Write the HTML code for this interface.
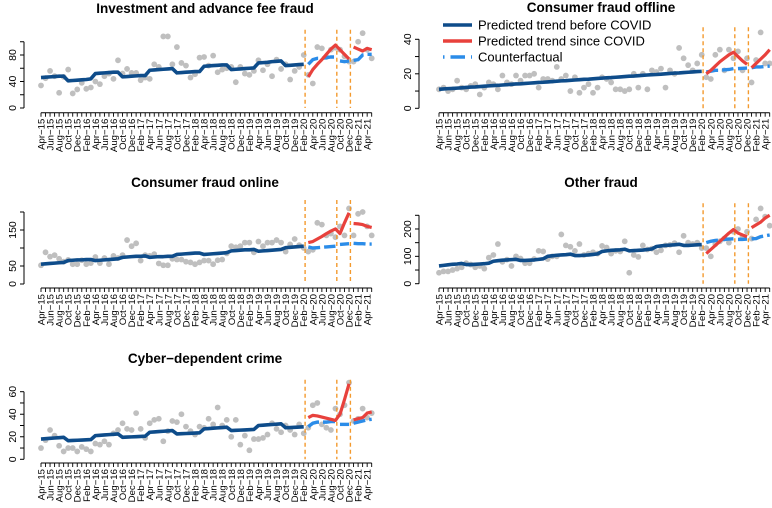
<!DOCTYPE html>
<html><head><meta charset="utf-8">
<style>
html,body{margin:0;padding:0;background:#fff;}
svg{display:block;font-family:"Liberation Sans",sans-serif;}
</style></head>
<body>
<svg id="chart" width="772" height="508" viewBox="0 0 772 508" xmlns="http://www.w3.org/2000/svg"></svg>
<script>
const months = ["Apr-15","May-15","Jun-15","Jul-15","Aug-15","Sep-15","Oct-15","Nov-15","Dec-15",
"Jan-16","Feb-16","Mar-16","Apr-16","May-16","Jun-16","Jul-16","Aug-16","Sep-16","Oct-16","Nov-16","Dec-16",
"Jan-17","Feb-17","Mar-17","Apr-17","May-17","Jun-17","Jul-17","Aug-17","Sep-17","Oct-17","Nov-17","Dec-17",
"Jan-18","Feb-18","Mar-18","Apr-18","May-18","Jun-18","Jul-18","Aug-18","Sep-18","Oct-18","Nov-18","Dec-18",
"Jan-19","Feb-19","Mar-19","Apr-19","May-19","Jun-19","Jul-19","Aug-19","Sep-19","Oct-19","Nov-19","Dec-19",
"Jan-20","Feb-20","Mar-20","Apr-20","May-20","Jun-20","Jul-20","Aug-20","Sep-20","Oct-20","Nov-20","Dec-20",
"Jan-21","Feb-21","Mar-21","Apr-21","May-21"];
const covidStart = 59;
const lockdowns = [58.3, 65.3, 68.3];
const redBreaks = [68];
const cfBreaks = [65, 68];

const p1Obs = [34,45,56,48,23,47,58,22,28,38,29,31,40,36,48,52,44,72,52,59,53,53,42,46,44,66,62,108,108,66,92,68,64,46,51,76,77,64,79,54,58,60,62,39,62,52,50,56,72,57,66,48,73,59,66,43,56,62,80,50,37,92,90,77,88,91,88,78,70,70,100,113,88,75];
const p1Trend = [46,46.5,47,47.5,48,48,41,41.5,42,42.5,43,44,52,52.5,53,53.5,54,54,47,47.5,48,48.5,49,49,57,57.5,58,58.5,59,59.5,53,53.5,54,54.5,55,55,63,63.5,64,64.5,65,65,58,58.5,59,59.5,60,60.5,68,68.5,69,70,70.5,71,64,64.5,65,65.5,66];
const p1Red = [47,58,66,73,81,89,95,88,81,74,92,89,86,90,88];
const p1Cf = [66,73,75,75,76,77,77,71,70,71,72,73,80,81,81];

const p2Obs = [11,12,10,11,16,12,11,13,14,8,12,15,14,11,19,15,14,19,16,19,19,20,12,17,17,16,24,17,19,10,18,9,12,14,9,12,18,17,15,11,11,10,11,20,12,20,11,22,21,23,12,22,20,35,29,25,22,26,31,18,17,31,34,22,34,29,33,22,29,15,28,44,26,26];
const p2Trend = [11.0,11.2,11.4,11.5,11.7,11.9,12.1,12.3,12.4,12.6,12.8,13.0,13.2,13.3,13.5,13.7,13.9,14.1,14.2,14.4,14.6,14.8,15.0,15.1,15.3,15.5,15.7,15.9,16.0,16.2,16.4,16.6,16.8,16.9,17.1,17.3,17.5,17.7,17.8,18.0,18.2,18.4,18.6,18.7,18.9,19.1,19.3,19.5,19.6,19.8,20.0,20.2,20.4,20.5,20.7,20.9,21.1,21.3,21.4];
const p2Red = [20,22,24.5,27,29,31,32.5,30,27.5,25.5,23.5,26,28.5,31,34];
const p2Cf = [21,21.5,22,22,22.3,22.5,23,23,23.2,23.3,23.5,24,24,24.2,24.5];

const p3Obs = [52,88,76,80,70,62,67,55,55,66,55,58,75,58,72,55,78,72,80,122,105,113,65,80,78,83,57,52,52,70,68,68,62,60,55,60,65,65,55,66,68,85,105,102,105,115,115,88,118,105,115,115,122,115,90,110,125,108,100,90,95,170,165,135,140,130,160,135,210,135,195,200,160,135];
const p3Trend = [55,56,57,58,59,60,65,66,67,67,68,68,65,66,67,68,69,70,74,75,76,77,77,78,74,75,76,76,77,77,82,83,84,85,86,86,82,83,84,85,86,87,92,93,94,95,95,96,91,92,93,94,95,96,101,102,103,104,105];
const p3Red = [115,118,125,132,140,147,153,140,170,198,168,167,165,160,157];
const p3Cf = [103,100,101,102,103,104,105,110,111,112,113,112,112,111,111];

const p4Obs = [40,45,45,50,55,60,75,70,60,65,55,95,105,145,80,88,65,100,92,75,75,90,120,118,90,100,100,180,140,135,120,145,105,110,115,110,138,132,110,120,118,155,40,105,98,140,125,128,115,122,140,142,148,115,175,150,145,150,130,130,100,145,155,165,150,190,200,170,190,165,235,275,245,212];
const p4Trend = [65,67,69,71,72,74,70,70,71,72,73,75,82,84,86,87,88,89,85,85,86,87,89,91,100,102,104,105,106,108,103,103,104,105,107,109,118,120,122,123,124,126,120,121,122,123,125,127,136,138,140,141,142,144,140,140,141,142,143];
const p4Red = [110,125,140,155,170,185,198,185,178,172,205,215,225,240,250];
const p4Cf = [150,155,158,160,162,163,164,162,162,163,164,165,172,175,178];

const p5Obs = [10,17,26,21,12,7,10,10,7,11,9,7,14,13,16,13,23,26,32,27,26,41,27,19,32,35,36,16,25,34,33,40,29,25,22,29,28,36,31,46,30,35,20,35,13,21,8,18,18,19,22,32,27,24,30,26,22,31,23,28,48,50,31,28,26,45,40,48,68,34,36,45,37,41];
const p5Trend = [18,18.3,18.6,18.9,19.2,19.5,16.5,16.7,16.9,17.1,17.3,17.5,21,21.3,21.6,21.9,22.2,22.5,19.5,19.7,19.9,20.1,20.3,20.5,24,24.3,24.6,24.9,25.2,25.5,22.5,22.7,22.9,23.1,23.3,23.5,27,27.3,27.6,27.9,28.2,28.5,25.5,25.7,25.9,26.1,26.3,26.5,30,30.3,30.6,30.9,31.2,31.5,28,28.2,28.4,28.6,28.8];
const p5Red = [37,39,38.5,37.5,36.5,35.5,34.5,40,53,67,35,36,37,41,42];
const p5Cf = [29,32,33,33,33,33.5,33.5,31,31,31,32,33,34,35,35.5];

const yTicks1 = [0,20,40,60,80,100], yLabels1 = [0,40,80];
const yTicks2 = [0,10,20,30,40], yLabels2 = [0,20,40];
const yTicks3 = [0,50,100,150,200], yLabels3 = [0,50,150];
const yTicks4 = [0,50,100,150,200,250], yLabels4 = [0,100,200];
const yTicks5 = [0,10,20,30,40,50,60], yLabels5 = [0,20,40,60];

const NS = "http://www.w3.org/2000/svg";
const svg = document.getElementById('chart');
function mk(tag, attrs, parent){ const e=document.createElementNS(NS,tag); for(const k in attrs) e.setAttribute(k,attrs[k]); (parent||svg).appendChild(e); return e; }

const panels = [
 {key:'investment-fraud', title:'Investment and advance fee fraud', tx:205, ty:13, x0:41, axX:24, y0:108, ymax:100, yTop:41.75, axisY:112.7, obs:p1Obs, trend:p1Trend, red:p1Red, cf:p1Cf, ticks:yTicks1, labels:yLabels1},
 {key:'consumer-offline', title:'Consumer fraud offline', tx:601, ty:12, x0:439, axX:419, y0:108.3, ymax:40, yTop:39.3, axisY:112.7, obs:p2Obs, trend:p2Trend, red:p2Red, cf:p2Cf, ticks:yTicks2, labels:yLabels2},
 {key:'consumer-online', title:'Consumer fraud online', tx:205, ty:187, x0:41, axX:24, y0:284, ymax:200, yTop:212, axisY:288, obs:p3Obs, trend:p3Trend, red:p3Red, cf:p3Cf, ticks:yTicks3, labels:yLabels3},
 {key:'other-fraud', title:'Other fraud', tx:601, ty:187, x0:439, axX:419, y0:283.7, ymax:250, yTop:215.3, axisY:288, obs:p4Obs, trend:p4Trend, red:p4Red, cf:p4Cf, ticks:yTicks4, labels:yLabels4},
 {key:'cyber-crime', title:'Cyber\u2212dependent crime', tx:205, ty:363, x0:41, axX:24, y0:459.3, ymax:60, yTop:391.7, axisY:463, obs:p5Obs, trend:p5Trend, red:p5Red, cf:p5Cf, ticks:yTicks5, labels:yLabels5}
];
const STEP = 4.53;

function segs(startIdx, vals, breaks){
  const out=[]; let cur=[];
  vals.forEach((v,j)=>{ const i=startIdx+j; cur.push([i,v]); if(breaks.includes(i)){ out.push(cur); cur=[]; } });
  if(cur.length) out.push(cur); return out;
}

panels.forEach(p=>{
  const g = mk('g',{});
  
  
  const X = i => p.x0 + i*STEP;
  const Y = v => p.y0 - (v/p.ymax)*(p.y0-p.yTop);
  const t = mk('text',{x:p.tx,y:p.ty,'text-anchor':'middle','font-size':'13.5','font-weight':'bold',fill:'#000'},g);
  t.textContent = p.title;
  
  
  // y axis
  const ya = mk('g',{},g);
  
  
  mk('line',{x1:p.axX,x2:p.axX,y1:Y(p.ticks[0]),y2:Y(p.ticks[p.ticks.length-1]),stroke:'#000','stroke-width':1},ya);
  p.ticks.forEach(v=>{ mk('line',{x1:p.axX-4,x2:p.axX,y1:Y(v),y2:Y(v),stroke:'#000','stroke-width':1},ya); });
  p.labels.forEach(v=>{
    const lx = p.axX-8, ly = Y(v);
    const tl = mk('text',{x:lx,y:ly,transform:`rotate(-90 ${lx} ${ly})`,'text-anchor':'middle','font-size':'10.5',fill:'#000'},ya);
    tl.textContent = v;
    
    
  });
  // x axis
  const xa = mk('g',{},g);
  
  
  mk('line',{x1:X(0),x2:X(months.length-1),y1:p.axisY,y2:p.axisY,stroke:'#000','stroke-width':1},xa);
  months.forEach((m,i)=>{
    mk('line',{x1:X(i),x2:X(i),y1:p.axisY,y2:p.axisY+4,stroke:'#000','stroke-width':0.9},xa);
    if(i%2===0){
      const lx=X(i)+3.5, ly=p.axisY+6;
      const tl = mk('text',{x:lx,y:ly,transform:`rotate(-90 ${lx} ${ly})`,'text-anchor':'end','font-size':'9.6',fill:'#000'},xa);
      tl.textContent = m.replace('-','\u2212');
      
      
    }
  });
  // observed dots
  p.obs.forEach((v,i)=>{
    const c = mk('circle',{cx:X(i),cy:Y(v),r:2.9,fill:'#bfbfbf'},g);
    
    
  });
  // lockdown lines
  lockdowns.forEach(L=>{
    const l = mk('line',{x1:X(L),x2:X(L),y1:p.yTop-12,y2:p.y0,stroke:'#f39a2e','stroke-width':1.4,'stroke-dasharray':'4,3'},g);
    
    
  });
  // trend
  const tr = mk('polyline',{points:p.trend.map((v,i)=>X(i)+','+Y(v)).join(' '),fill:'none',stroke:'#0e4c8a','stroke-width':3.6,'stroke-linejoin':'round'},g);
  
  
  segs(covidStart,p.cf,cfBreaks).forEach(s=>{
    const l = mk('polyline',{points:s.map(([i,v])=>X(i)+','+Y(v)).join(' '),fill:'none',stroke:'#2b8ce8','stroke-width':3.4,'stroke-dasharray':'12,4'},g);
    
    
  });
  segs(covidStart,p.red,redBreaks).forEach(s=>{
    const l = mk('polyline',{points:s.map(([i,v])=>X(i)+','+Y(v)).join(' '),fill:'none',stroke:'#e8413c','stroke-width':3.2,'stroke-linejoin':'round'},g);
    
    
  });
});

// legend
const lg = mk('g',{});


const legendItems = [['Predicted trend before COVID','#0e4c8a',null],['Predicted trend since COVID','#e8413c',null],['Counterfactual','#2b8ce8','1.5,6,13,0']];
legendItems.forEach((it,k)=>{
  const y = 25 + k*16;
  const l = mk('line',{x1:443,x2:472,y1:y,y2:y,stroke:it[1],'stroke-width':3.4},lg);
  if(it[2]) l.setAttribute('stroke-dasharray',it[2]);
  const t = mk('text',{x:478,y:y+4.5,'font-size':'13',fill:'#000'},lg);
  t.textContent = it[0];
  
  
});
</script>
</body></html>
